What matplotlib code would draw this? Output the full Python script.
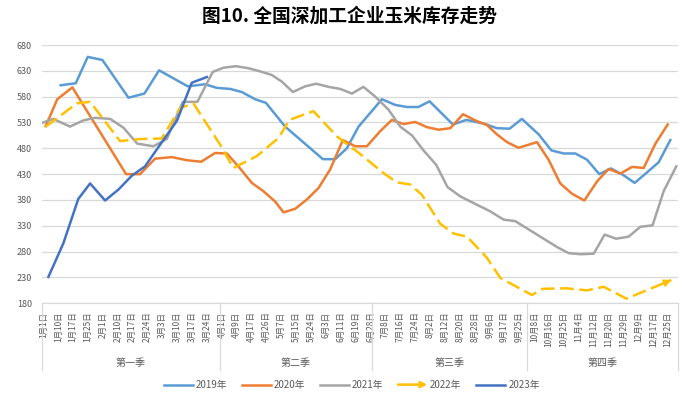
import matplotlib
matplotlib.use('Agg')
import matplotlib.pyplot as plt
import numpy as np
from matplotlib.legend_handler import HandlerLine2D
from matplotlib.patches import FancyArrowPatch

plt.rcParams['font.family'] = ['Noto Sans CJK SC', 'DejaVu Sans']

# category labels along the bottom
date_labels = ['1月1日', '1月10日', '1月17日', '1月25日', '2月1日', '2月10日', '2月17日', '2月24日',
               '3月3日', '3月10日', '3月17日', '3月24日',
               '4月1日', '4月9日', '4月17日', '4月26日', '5月7日', '5月15日', '5月24日', '6月3日',
               '6月11日', '6月19日', '6月28日',
               '7月8日', '7月16日', '7月24日', '8月2日', '8月12日', '8月20日', '8月28日', '9月6日',
               '9月17日', '9月25日',
               '10月8日', '10月16日', '10月25日', '11月4日', '11月12日', '11月20日', '11月29日',
               '12月9日', '12月17日', '12月25日']
quarter_names = ['第一季', '第二季', '第三季', '第四季']
quarter_edges = [0, 12.05, 22.31, 32.78, 43]

# position along the category axis (slots) and stock level
x_2019 = [1.28, 2.30, 3.11, 4.10, 5.86, 6.94, 7.93, 9.87, 11.04, 11.83, 12.73, 13.52, 14.42, 15.15,
          16.45, 19.00, 19.83, 20.62, 21.41, 22.99, 23.89, 24.68, 25.46, 26.21, 27.79, 28.69, 29.86,
          30.76, 31.62, 32.45, 33.58, 34.44, 35.27, 36.06, 36.85, 37.68, 38.47, 39.26, 40.07, 41.01,
          41.69, 42.48]
y_2019 = [602, 606, 657, 651, 578, 586, 631, 600, 604, 597, 595, 589, 575, 568,
          522, 459, 459, 480, 522, 575, 564, 560, 560, 571, 526, 535, 528,
          519, 518, 537, 507, 476, 470, 470, 458, 430, 441, 429, 413, 436,
          453, 496]

x_2020 = [0.27, 1.05, 2.07, 5.70, 6.65, 7.66, 8.79, 9.80, 10.77, 11.72, 12.51, 13.29, 14.20, 14.98,
          15.77, 16.34, 17.13, 17.92, 18.70, 19.49, 20.35, 21.18, 21.97, 22.87, 23.66, 24.45, 25.24,
          26.03, 26.82, 27.61, 28.47, 29.30, 30.09, 30.76, 31.44, 32.22, 33.47, 34.25, 35.04, 35.84,
          36.67, 37.53, 38.31, 39.10, 39.89, 40.68, 41.47, 42.30]
y_2020 = [523, 575, 598, 430, 430, 460, 463, 457, 454, 471, 470, 445, 413, 397,
          377, 356, 363, 381, 403, 439, 496, 484, 484, 513, 535, 527, 531,
          521, 516, 519, 546, 534, 525, 507, 492, 481, 492, 458, 412, 392,
          379, 416, 440, 431, 444, 442, 489, 526]

x_2021 = [0.00, 0.78, 1.91, 2.81, 3.60, 4.62, 5.52, 6.46, 7.55, 8.45, 9.53, 10.52, 11.56, 12.28,
          13.14, 13.97, 14.76, 15.55, 16.23, 16.97, 17.80, 18.55, 19.38, 20.17, 20.96, 21.74, 22.54,
          23.43, 24.23, 25.02, 25.80, 26.66, 27.42, 28.28, 29.18, 30.31, 31.21, 32.00, 33.13, 34.03,
          34.82, 35.61, 36.40, 37.30, 38.04, 38.81, 39.66, 40.45, 41.28, 42.03, 42.88]
y_2021 = [529, 537, 522, 534, 539, 537, 520, 489, 484, 498, 570, 570, 628, 636,
          639, 635, 629, 622, 609, 589, 600, 605, 599, 595, 586, 599, 580,
          555, 522, 505, 476, 448, 405, 387, 374, 358, 342, 339, 319, 303,
          289, 277, 275, 276, 313, 305, 309, 328, 331, 397, 445]

x_2022 = [0.27, 2.37, 3.27, 5.29, 6.65, 8.11, 9.35, 10.25, 12.06, 12.95, 14.54, 16.00, 16.74, 18.36,
          19.95, 21.52, 23.10, 24.00, 24.90, 25.69, 26.93, 27.83, 28.74, 30.09, 30.99, 33.13, 33.85,
          35.45, 36.85, 37.97, 39.51, 42.55]
y_2022 = [522, 567, 570, 494, 498, 499, 558, 567, 487, 442, 465, 500, 535, 552,
          503, 469, 432, 414, 410, 390, 334, 315, 309, 268, 229, 196, 208,
          209, 205, 212, 189, 225]

x_2023 = [0.45, 1.46, 2.47, 3.27, 4.28, 5.18, 6.09, 6.98, 7.78, 9.13, 10.14, 11.16]
y_2023 = [231, 296, 382, 412, 379, 400, 427, 445, 478, 533, 607, 618]

series = [
    ('2019年', x_2019, y_2019, '#5B9BD5'),
    ('2020年', x_2020, y_2020, '#ED7D31'),
    ('2021年', x_2021, y_2021, '#A5A5A5'),
    ('2022年', x_2022, y_2022, '#FFC000'),
    ('2023年', x_2023, y_2023, '#4472C4'),
]

grid_color = '#D9D9D9'
text_color = '#595959'


class ArrowHandler(HandlerLine2D):
    """legend key for the 2022 line: a short line ending in an arrow head"""
    def create_artists(self, legend, orig_handle, xdescent, ydescent, width, height, fontsize, trans):
        y = height / 2 - ydescent
        arrow = FancyArrowPatch((-xdescent, y), (-xdescent + width, y), arrowstyle='->',
                                mutation_scale=9, color=orig_handle.get_color(),
                                lw=orig_handle.get_linewidth(), shrinkA=0, shrinkB=0,
                                transform=trans)
        return [arrow]


fig = plt.figure(figsize=(6.99, 4.04), dpi=100)
ax = fig.add_axes([0.0597, 0.2493, 0.9103, 0.6393])

handles = []
for name, xs, ys, color in series:
    if name == '2022年':
        line, = ax.plot(xs, ys, color=color, lw=1.8, dashes=(5.5, 2.2), label=name,
                        solid_capstyle='butt', dash_capstyle='butt')
        # arrow head at the last point
        fx = xs[-1] - 0.15 * (xs[-1] - xs[-2])
        fy = ys[-1] - 0.15 * (ys[-1] - ys[-2])
        ax.annotate('', xy=(xs[-1], ys[-1]), xytext=(fx, fy),
                    arrowprops=dict(arrowstyle='-|>', color=color, lw=1.2, shrinkA=0, shrinkB=0,
                                    mutation_scale=11))
    else:
        line, = ax.plot(xs, ys, color=color, lw=1.8, label=name, solid_joinstyle='round')
    handles.append(line)

ax.set_xlim(0, 43)
ax.set_ylim(180, 680)
ax.set_yticks(np.arange(180, 681, 50))
ax.yaxis.grid(True, color=grid_color, lw=0.9)
ax.set_axisbelow(True)
for s in ['top', 'right', 'left']:
    ax.spines[s].set_visible(False)
ax.spines['bottom'].set_color(grid_color)
ax.spines['bottom'].set_linewidth(0.9)
ax.tick_params(axis='y', length=0, pad=7, labelsize=6.5, labelcolor=text_color)

tick_pos = np.linspace(0.11, 42.33, len(date_labels))
ax.set_xticks(tick_pos)
ax.set_xticklabels(date_labels, rotation=90, fontsize=6)
ax.tick_params(axis='x', length=0, pad=6, labelcolor=text_color)

# quarter groups under the dates
trans = ax.get_xaxis_transform()
for e in quarter_edges:
    ax.plot([e, e], [0, -0.258], transform=trans, color=grid_color, lw=0.9, clip_on=False)
for i, q in enumerate(quarter_names):
    mid = (quarter_edges[i] + quarter_edges[i + 1]) / 2
    ax.text(mid, -0.23, q, transform=trans, ha='center', va='center', fontsize=7.2, color=text_color)

fig.text(0.5, 0.959, '图10. 全国深加工企业玉米库存走势', ha='center', va='center',
         fontsize=13.5, fontweight='bold', color='black')

fig.legend(handles=handles, loc='center', bbox_to_anchor=(0.503, 0.047), ncol=5, frameon=False,
           fontsize=7, handlelength=3.0, handletextpad=0.3, columnspacing=1.5,
           labelcolor=text_color, handler_map={handles[3]: ArrowHandler()})

fig.savefig('out.png', dpi=100)
